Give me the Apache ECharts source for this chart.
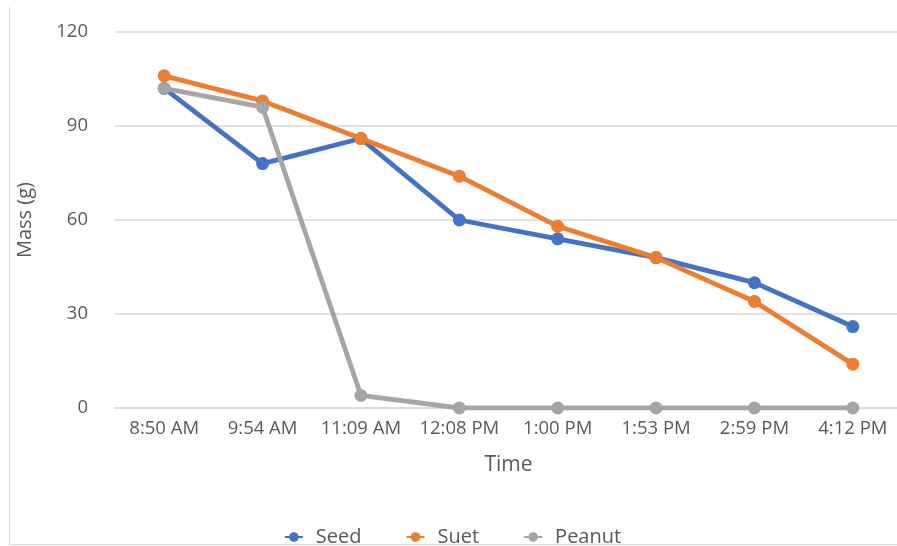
<!DOCTYPE html>
<html><head><meta charset="utf-8">
<script src="https://cdn.jsdelivr.net/npm/echarts@6/dist/echarts.min.js"></script>
<style>
html,body{margin:0;padding:0;background:#fff;overflow:hidden;}
#c{width:905px;height:546px;position:relative;}
#frame{position:absolute;left:9px;top:7px;width:900px;height:537px;border-left:1px solid #D9D9D9;border-bottom:1px solid #D9D9D9;pointer-events:none;}
</style></head>
<body>
<div id="c"></div>
<div id="frame"></div>
<script>
const categories = ['8:50 AM','9:54 AM','11:09 AM','12:08 PM','1:00 PM','1:53 PM','2:59 PM','4:12 PM'];
const seed = [102, 78, 86, 60, 54, 48, 40, 26];
const suet = [106, 98, 86, 74, 58, 48, 34, 14];
const peanut = [102, 96, 4, 0, 0, 0, 0, 0];
const yTicks = [0, 30, 60, 90, 120];

const chart = echarts.init(document.getElementById('c'));
const font = '"Open Sans", Lato, sans-serif';
function mk(name, data, color){
  return {name, type:'line', data, color, symbol:'circle', symbolSize:13,
    lineStyle:{width:4.8, color}, itemStyle:{color}, z: 2};
}
chart.setOption({
  animation:false,
  textStyle:{fontFamily:font},
  grid:{left:115, top:32, right:3, height:376, containLabel:false},
  legend:{top:522, left:'center', itemGap:44, itemWidth:18, itemHeight:12,
    textStyle:{fontSize:20, color:'#595959', fontFamily:font, padding:[0,0,0,8]},
    data:['Seed','Suet','Peanut']},
  xAxis:{type:'category', data:categories, boundaryGap:true,
    name:'Time', nameLocation:'middle', nameGap:47,
    nameTextStyle:{fontSize:21, color:'#595959', fontFamily:font},
    axisLine:{show:true, lineStyle:{color:'#D9D9D9', width:1.5}},
    axisTick:{show:false},
    axisLabel:{fontSize:18.5, color:'#595959', margin:11, fontFamily:font, interval:0}},
  yAxis:{type:'value', min:0, max:120, interval:30,
    name:'Mass (g)', nameLocation:'middle', nameGap:80, nameRotate:90,
    nameTextStyle:{fontSize:20, color:'#595959', fontFamily:font},
    axisLine:{show:false}, axisTick:{show:false},
    splitLine:{lineStyle:{color:'#D9D9D9', width:1.5}},
    axisLabel:{fontSize:18.5, color:'#595959', margin:27, fontFamily:font,
      formatter: v => yTicks.includes(v) ? String(v) : ''}},
  series:[mk('Seed', seed, '#4472C4'), mk('Suet', suet, '#ED7D31'), mk('Peanut', peanut, '#A5A5A5')]
});
</script>
</body></html>
